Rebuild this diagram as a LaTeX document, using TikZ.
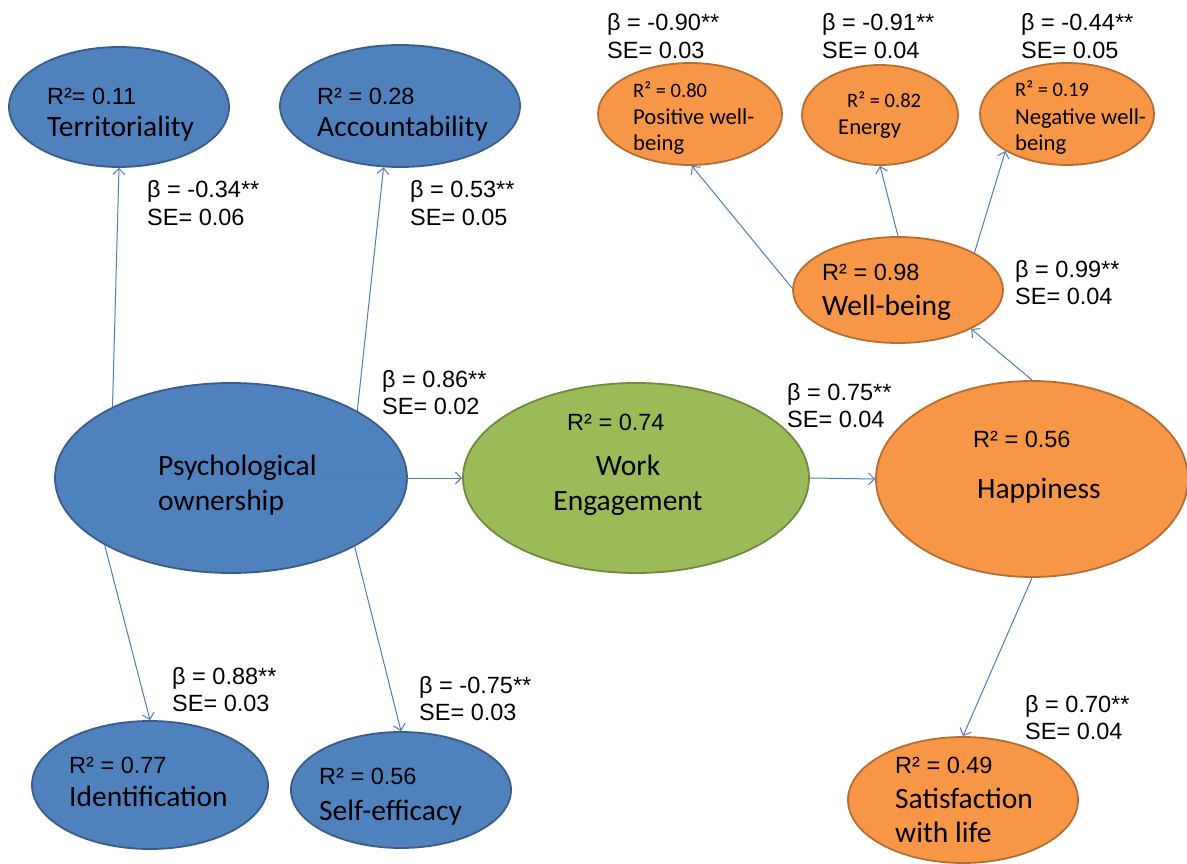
\documentclass[tikz,border=0pt]{standalone}
\usepackage{fontspec}
\setmainfont{Carlito}
\newfontfamily\arialf{Liberation Sans}
\usetikzlibrary{arrows.meta,shapes.geometric}
\definecolor{bluefill}{HTML}{4F81BD}
\definecolor{blueline}{HTML}{385D8A}
\definecolor{greenfill}{HTML}{9BBB59}
\definecolor{greenline}{HTML}{71893F}
\definecolor{orangefill}{HTML}{F79646}
\definecolor{orangeline}{HTML}{B66D31}
\definecolor{arrowblue}{HTML}{4A7EBB}
\tikzset{
  ell/.style={ellipse, line width=1.8pt, inner sep=0pt},
  bluenode/.style={ell, fill=bluefill, draw=blueline},
  greennode/.style={ell, fill=greenfill, draw=greenline},
  orangenode/.style={ell, fill=orangefill, draw=orangeline},
  conn/.style={draw=arrowblue, line width=1pt, -{Straight Barb[length=6pt,width=12pt]}},
  stat/.style={font=\arialf\fontsize{23.5}{28}\selectfont, anchor=base west, inner sep=0pt},
  bigname/.style={font=\fontsize{29.5}{35}\selectfont, anchor=base west, inner sep=0pt},
  smallrsq/.style={font=\fontsize{20.5}{24}\selectfont, anchor=base west, inner sep=0pt},
  smallname/.style={font=\fontsize{22.7}{27}\selectfont, anchor=base west, inner sep=0pt},
}
% path coefficient with its standard error, one line below the other
\newcommand{\betase}[5]{%
  \node[stat] (#1b) at (#2,#3) {β = #4**};
  \node[stat] (#1s) at (#2,#3+27.5) {SE= #5};}
\begin{document}
\begin{tikzpicture}[x=1pt,y=-1pt]
\useasboundingbox (0,0) rectangle (1187,864);

% latent variables
\node[bluenode, minimum width=220pt, minimum height=120pt] (terr) at (119,107) {};
\node[bluenode, minimum width=240pt, minimum height=122pt] (acc) at (400,106) {};
\node[bluenode, minimum width=352pt, minimum height=190pt] (po) at (231,478) {};
\node[bluenode, minimum width=236pt, minimum height=128pt] (ident) at (150,785) {};
\node[bluenode, minimum width=220pt, minimum height=116pt] (self) at (401,790) {};
\node[greennode, minimum width=346pt, minimum height=190pt] (we) at (636,478) {};
\node[orangenode, minimum width=312pt, minimum height=196pt] (hap) at (1032,479) {};
\node[orangenode, minimum width=210pt, minimum height=106pt] (wb) at (898,290) {};
\node[orangenode, minimum width=184pt, minimum height=102pt] (pos) at (690,114) {};
\node[orangenode, minimum width=156pt, minimum height=100pt] (energy) at (880,115) {};
\node[orangenode, minimum width=174pt, minimum height=102pt] (neg) at (1067,114) {};
\node[orangenode, minimum width=230pt, minimum height=126pt] (sat) at (963,800) {};

% texts inside the ellipses
\node[stat] (terr-r) at (47,105) {R²= 0.11};
\node[bigname] (terr-n) at (47,137) {Territoriality};
\node[stat] (acc-r) at (317,105) {R² = 0.28};
\node[bigname] (acc-n) at (317,137) {Accountability};
\node[bigname] (po-n1) at (158,475) {Psychological};
\node[bigname] (po-n2) at (158,510) {ownership};
\node[stat] (ident-r) at (69,773) {R² = 0.77};
\node[bigname] (ident-n) at (69,806) {Identification};
\node[stat] (self-r) at (319,784) {R² = 0.56};
\node[bigname] (self-n) at (319,820) {Self-efficacy};
\node[stat] (we-r) at (567,430) {R² = 0.74};
\node[bigname, anchor=base] (we-n1) at (628,475) {Work};
\node[bigname, anchor=base] (we-n2) at (628,510) {Engagement};
\node[stat] (hap-r) at (973,447) {R² = 0.56};
\node[bigname] (hap-n) at (977,498) {Happiness};
\node[stat] (wb-r) at (822,280) {R² = 0.98};
\node[bigname] (wb-n) at (822,315) {Well-being};
\node[smallrsq] (pos-r) at (633,98) {R² = 0.80};
\node[smallname] (pos-n1) at (633,125) {Positive well-};
\node[smallname] (pos-n2) at (633,151) {being};
\node[smallrsq] (energy-r) at (847,108) {R² = 0.82};
\node[smallname] (energy-n) at (838,135) {Energy};
\node[smallrsq] (neg-r) at (1015,97) {R² = 0.19};
\node[smallname] (neg-n1) at (1015,125) {Negative well-};
\node[smallname] (neg-n2) at (1015,151) {being};
\node[stat] (sat-r) at (895,773) {R² = 0.49};
\node[bigname] (sat-n1) at (895,808) {Satisfaction};
\node[bigname] (sat-n2) at (895,842) {with life};

% connectors
\draw[conn] (po.149.6) -- (terr.south);
\draw[conn] (po.28.7) -- (acc.-105);
\draw[conn] (po.208) -- (ident.north);
\draw[conn] (po.-29.4) -- (self.north);
\draw[conn] ([xshift=79pt]po.center) -- (we.west);
\draw[conn] (we.east) -- (hap.west);
\draw[conn] (hap.north) -- (wb.-28);
\draw[conn] (hap.south) -- (sat.north);
\draw[conn] (wb.179) -- (pos.-88);
\draw[conn] (wb.north) -- (energy.south);
\draw[conn] (wb.26) -- (neg.211);

% path coefficients
\betase{s1}{147}{198}{-0.34}{0.06}
\betase{s2}{410}{198}{0.53}{0.05}
\betase{s3}{382}{387}{0.86}{0.02}
\betase{s4}{787}{400}{0.75}{0.04}
\betase{s5}{1015}{277}{0.99}{0.04}
\betase{s6}{607}{31}{-0.90}{0.03}
\betase{s7}{822}{31}{-0.91}{0.04}
\betase{s8}{1021}{31}{-0.44}{0.05}
\betase{s9}{172}{684}{0.88}{0.03}
\betase{s10}{419}{693}{-0.75}{0.03}
\betase{s11}{1025}{712}{0.70}{0.04}
\end{tikzpicture}
\end{document}
